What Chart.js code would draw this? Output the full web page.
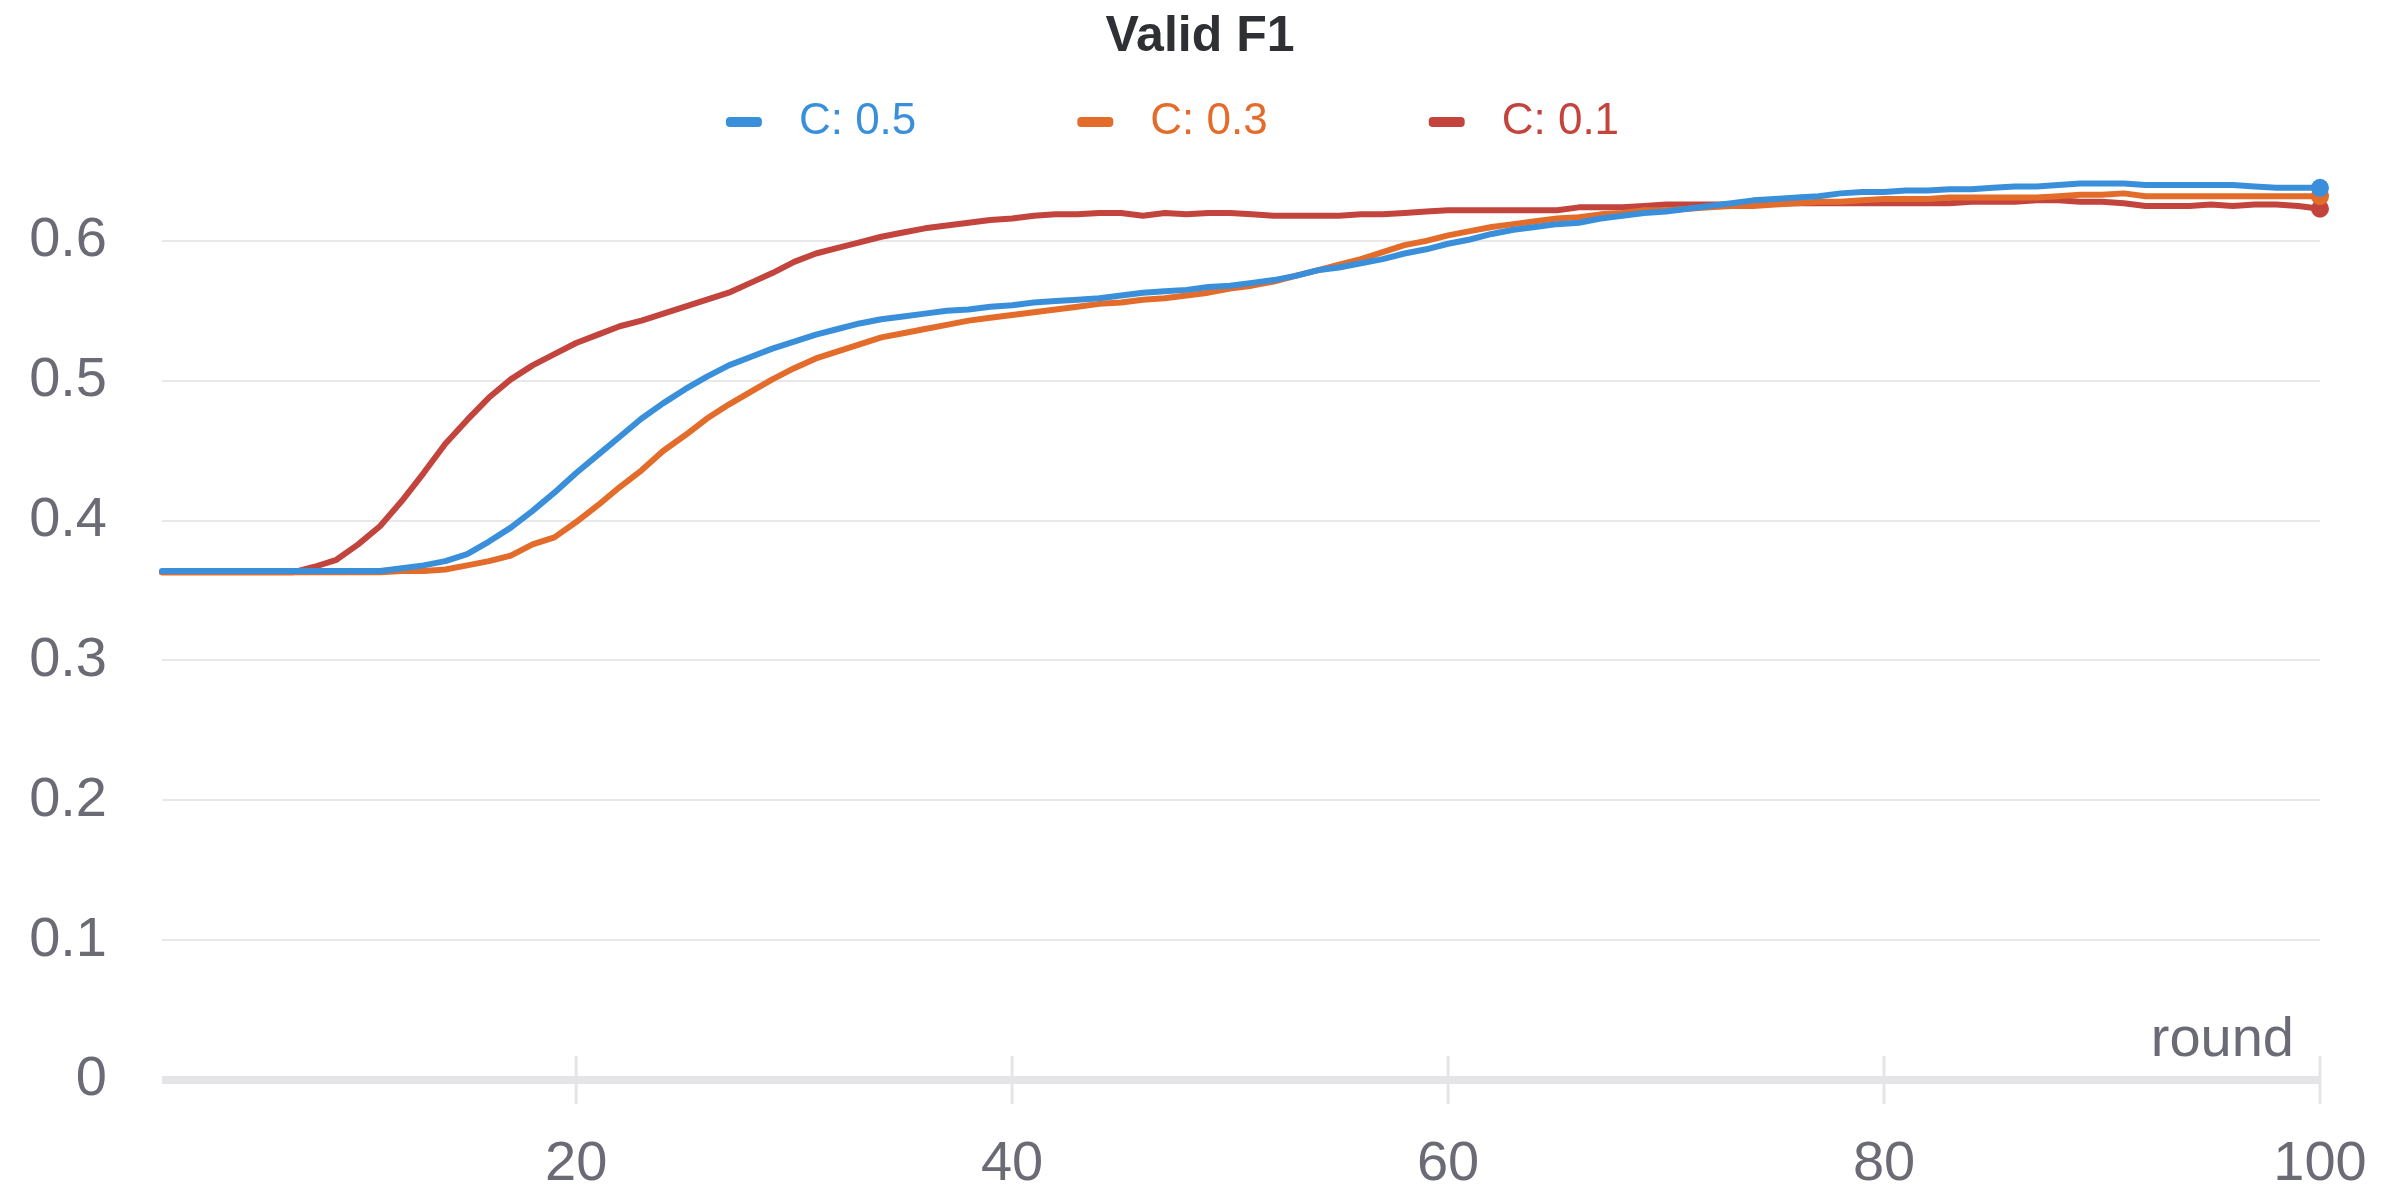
<!DOCTYPE html>
<html>
<head>
<meta charset="utf-8">
<script src="https://cdn.jsdelivr.net/npm/chart.js@4.4.1/dist/chart.umd.min.js"></script>
<style>
  html, body { margin: 0; padding: 0; background: #fff; }
  #wrap { width: 2400px; height: 1200px; }
</style>
</head>
<body>
<div id="wrap"><canvas id="chart" width="2400" height="1200"></canvas></div>
<script>
// rounds 1..100 on the x axis
const rounds = Array.from({ length: 100 }, (_, i) => i + 1);

const seriesNames = ['C: 0.5', 'C: 0.3', 'C: 0.1'];
const seriesColors = ['#3a8fdb', '#e36c2b', '#c2443d'];

// Valid F1 per round
const f1C05 = [
  0.364, 0.364, 0.364, 0.364, 0.364, 0.364, 0.364, 0.364, 0.364, 0.364,
  0.364, 0.366, 0.368, 0.371, 0.376, 0.385, 0.395, 0.407, 0.420, 0.434,
  0.447, 0.460, 0.473, 0.484, 0.494, 0.503, 0.511, 0.517, 0.523, 0.528,
  0.533, 0.537, 0.541, 0.544, 0.546, 0.548, 0.550, 0.551, 0.553, 0.554,
  0.556, 0.557, 0.558, 0.559, 0.561, 0.563, 0.564, 0.565, 0.567, 0.568,
  0.570, 0.572, 0.575, 0.579, 0.581, 0.584, 0.587, 0.591, 0.594, 0.598,
  0.601, 0.605, 0.608, 0.610, 0.612, 0.613, 0.616, 0.618, 0.620, 0.621,
  0.623, 0.625, 0.627, 0.629, 0.630, 0.631, 0.632, 0.634, 0.635, 0.635,
  0.636, 0.636, 0.637, 0.637, 0.638, 0.639, 0.639, 0.640, 0.641, 0.641,
  0.641, 0.640, 0.640, 0.640, 0.640, 0.640, 0.639, 0.638, 0.638, 0.638
];
const f1C03 = [
  0.363, 0.363, 0.363, 0.363, 0.363, 0.363, 0.363, 0.363, 0.363, 0.363,
  0.363, 0.364, 0.364, 0.365, 0.368, 0.371, 0.375, 0.383, 0.388, 0.399,
  0.411, 0.424, 0.436, 0.450, 0.461, 0.473, 0.483, 0.492, 0.501, 0.509,
  0.516, 0.521, 0.526, 0.531, 0.534, 0.537, 0.540, 0.543, 0.545, 0.547,
  0.549, 0.551, 0.553, 0.555, 0.556, 0.558, 0.559, 0.561, 0.563, 0.566,
  0.568, 0.571, 0.575, 0.579, 0.583, 0.587, 0.592, 0.597, 0.600, 0.604,
  0.607, 0.610, 0.612, 0.614, 0.616, 0.617, 0.619, 0.620, 0.622, 0.622,
  0.623, 0.624, 0.625, 0.625, 0.626, 0.627, 0.628, 0.628, 0.629, 0.630,
  0.630, 0.630, 0.631, 0.631, 0.631, 0.631, 0.631, 0.632, 0.633, 0.633,
  0.634, 0.632, 0.632, 0.632, 0.632, 0.632, 0.632, 0.632, 0.632, 0.632
];
const f1C01 = [
  0.363, 0.363, 0.363, 0.363, 0.363, 0.363, 0.363, 0.367, 0.372, 0.383,
  0.396, 0.414, 0.434, 0.455, 0.472, 0.488, 0.501, 0.511, 0.519, 0.527,
  0.533, 0.539, 0.543, 0.548, 0.553, 0.558, 0.563, 0.570, 0.577, 0.585,
  0.591, 0.595, 0.599, 0.603, 0.606, 0.609, 0.611, 0.613, 0.615, 0.616,
  0.618, 0.619, 0.619, 0.620, 0.620, 0.618, 0.620, 0.619, 0.620, 0.620,
  0.619, 0.618, 0.618, 0.618, 0.618, 0.619, 0.619, 0.620, 0.621, 0.622,
  0.622, 0.622, 0.622, 0.622, 0.622, 0.624, 0.624, 0.624, 0.625, 0.626,
  0.626, 0.626, 0.626, 0.627, 0.627, 0.627, 0.627, 0.627, 0.627, 0.627,
  0.627, 0.627, 0.627, 0.628, 0.628, 0.628, 0.629, 0.629, 0.628, 0.628,
  0.627, 0.625, 0.625, 0.625, 0.626, 0.625, 0.626, 0.626, 0.625, 0.623
];

const xTicks = [20, 40, 60, 80, 100];
const yTicks = [0, 0.1, 0.2, 0.3, 0.4, 0.5, 0.6];
const yTickLabels = ['0', '0.1', '0.2', '0.3', '0.4', '0.5', '0.6'];

const FONT = '"Liberation Sans", Arial, Helvetica, sans-serif';
const TICK_COLOR = '#6b6b76';
Chart.defaults.font.family = FONT;

// thick base line at y = 0, tick marks across it, and the "round" label
const baseAxis = {
  id: 'baseAxis',
  beforeDatasetsDraw(chart) {
    const { ctx, scales: { x, y } } = chart;
    const y0 = y.getPixelForValue(0);
    ctx.save();
    ctx.strokeStyle = '#e5e5e7';
    ctx.lineWidth = 8;
    ctx.beginPath();
    ctx.moveTo(x.left, y0);
    ctx.lineTo(x.right, y0);
    ctx.stroke();
    ctx.lineWidth = 3;
    xTicks.forEach(v => {
      const px = x.getPixelForValue(v);
      ctx.beginPath();
      ctx.moveTo(px, y0 - 24);
      ctx.lineTo(px, y0 + 24);
      ctx.stroke();
    });
    ctx.fillStyle = TICK_COLOR;
    ctx.font = '56px ' + FONT;
    ctx.textAlign = 'right';
    ctx.textBaseline = 'alphabetic';
    ctx.fillText('round', x.right - 26, y0 - 24);
    ctx.restore();
  }
};

// legend: short dash + coloured label, centred under the title
const dashLegend = {
  id: 'dashLegend',
  afterDraw(chart) {
    const ctx = chart.ctx;
    const y = chart.chartArea.top - 49;
    ctx.save();
    ctx.font = '44px ' + FONT;
    ctx.textBaseline = 'middle';
    const widths = seriesNames.map(n => ctx.measureText(n).width);
    const total = widths.reduce((a, w) => a + 73 + w, 0) + 161 * (widths.length - 1) + 55;
    let x = chart.width / 2 - total / 2;
    seriesNames.forEach((name, i) => {
      ctx.fillStyle = seriesColors[i];
      ctx.beginPath();
      ctx.roundRect(x, y - 5, 36, 10, 4);
      ctx.fill();
      ctx.fillText(name, x + 73, y);
      x += 73 + widths[i] + 161;
    });
    ctx.restore();
  }
};

const lastPoint = c => (c.dataIndex === rounds.length - 1 ? 9 : 0);

function makeSet(i, data) {
  return {
    label: seriesNames[i],
    data: data,
    borderColor: seriesColors[i],
    backgroundColor: seriesColors[i],
    borderWidth: 6,
    borderJoinStyle: 'round',
    borderCapStyle: 'round',
    tension: 0,
    fill: false,
    clip: false,
    pointRadius: lastPoint,
    pointHoverRadius: lastPoint,
    pointBorderWidth: 0,
    pointBackgroundColor: seriesColors[i]
  };
}

const ctx = document.getElementById('chart').getContext('2d');
const myChart = new Chart(ctx, {
  type: 'line',
  data: {
    labels: rounds,
    datasets: [makeSet(0, f1C05), makeSet(1, f1C03), makeSet(2, f1C01)]
  },
  options: {
    responsive: false,
    animation: false,
    devicePixelRatio: 1,
    layout: { padding: 0 },
    plugins: {
      legend: { display: false },
      tooltip: { enabled: false },
      title: {
        display: true,
        text: 'Valid F1',
        color: '#2e3033',
        font: { size: 50, weight: 'bold' },
        padding: { top: 7, bottom: 104 }
      }
    },
    scales: {
      x: {
        type: 'linear',
        min: 1,
        max: 100,
        afterBuildTicks: s => { s.ticks = xTicks.map(v => ({ value: v })); },
        afterFit: s => { s.height = 120; s.paddingRight = 80; },
        grid: { display: false },
        border: { display: false },
        ticks: { color: TICK_COLOR, font: { size: 56 }, padding: 43, maxRotation: 0 }
      },
      y: {
        min: 0,
        max: 0.65,
        afterBuildTicks: s => { s.ticks = yTicks.map(v => ({ value: v })); },
        afterFit: s => { s.width = 162; },
        grid: { color: '#e8e8e8', lineWidth: 2, drawTicks: false },
        border: { display: false },
        ticks: {
          color: TICK_COLOR,
          font: { size: 56 },
          padding: 55,
          callback: (v, i) => yTickLabels[i]
        }
      }
    }
  },
  plugins: [baseAxis, dashLegend]
});
</script>
</body>
</html>
